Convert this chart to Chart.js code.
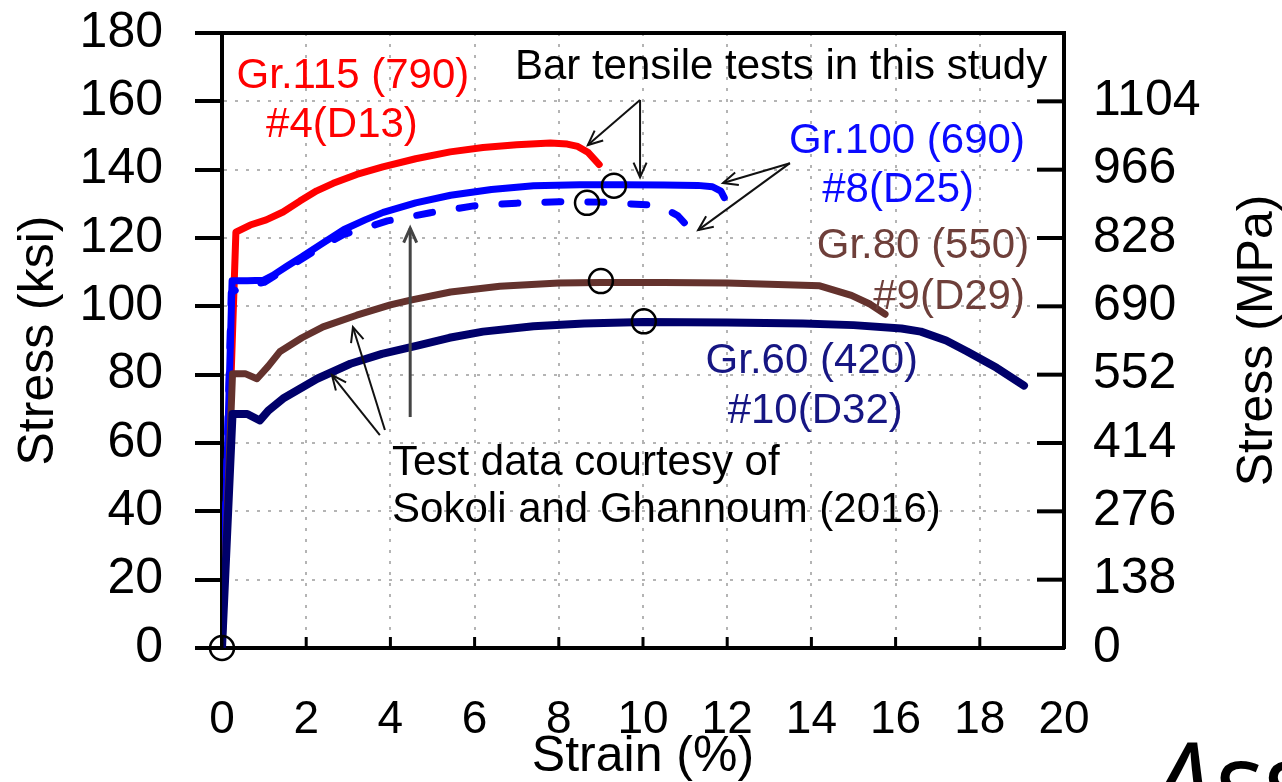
<!DOCTYPE html>
<html>
<head>
<meta charset="utf-8">
<title>Stress-strain curves</title>
<script src="https://cdn.jsdelivr.net/npm/chart.js@4.4.1/dist/chart.umd.min.js"></script>
<style>
  html, body { margin: 0; padding: 0; background: #fff; }
  #wrap { width: 1282px; height: 782px; }
</style>
</head>
<body>
<div id="wrap"><canvas id="chart"></canvas></div>
<script>
// Stress-strain curves of reinforcing bars, ksi on the left, MPa labels on the right

const FONT = "'Liberation Sans', Arial, sans-serif";

const RED   = '#ff0000';
const BLUE  = '#0000ff';
const BROWN = '#64322d';
const NAVY  = '#00006a';

// Gr.115 #4 (bar test)
const GR115_STRAIN = [0, 0.33, 0.67, 1.05, 1.45, 1.85, 2.25, 2.64, 3.2, 3.82, 4.6, 5.42, 6.2, 7.0, 7.8, 8.2, 8.45, 8.7, 8.96];
const GR115_STRESS = [0, 121.7, 123.8, 125.3, 127.6, 130.8, 133.8, 136, 138.6, 140.8, 143.2, 145.2, 146.5, 147.3, 147.8, 147.5, 146.8, 145, 141.5];

// Gr.100 #8 (bar test)
const GR100_STRAIN = [0, 0.24, 0.6, 0.98, 1.2, 1.55, 1.9, 2.33, 2.9, 3.4, 3.83, 4.6, 5.43, 6.4, 7.4, 8.5, 9.5, 10.5, 11.3, 11.65, 11.85, 11.93];
const GR100_STRESS = [0, 107.5, 107.5, 107.6, 109, 111.8, 114.5, 118, 122.5, 125.3, 127.5, 130.3, 132.5, 134.2, 135.3, 135.6, 135.6, 135.5, 135.4, 135, 133.7, 131.8];

// Gr.100 #8 (Sokoli and Ghannoum)
const GR100S_STRAIN = [0, 0.22, 0.5, 1.0, 1.5, 2.3, 2.88, 3.93, 4.95, 5.98, 7.0, 8.0, 9.0, 10.1, 10.5, 10.83, 11.07];
const GR100S_STRESS = [0, 104, 106, 107, 110.8, 117, 121, 125, 127.4, 129.4, 130.2, 130.6, 130.5, 129.7, 128.8, 126.5, 123.3];

// Gr.80 #9
const GR80_STRAIN = [0, 0.25, 0.55, 0.83, 1.1, 1.38, 1.9, 2.4, 3.2, 4.0, 4.48, 5.43, 6.6, 8.0, 9.0, 10.5, 12.0, 13.2, 14.2, 14.95, 15.4, 15.75];
const GR80_STRESS = [0, 80.3, 80.3, 78.8, 82.5, 86.8, 90.8, 94, 97.4, 100.4, 101.8, 104.2, 105.9, 106.8, 107, 107, 106.8, 106.4, 106, 103.2, 100.6, 97.7];

// Gr.60 #10
const GR60_STRAIN = [0, 0.25, 0.6, 0.9, 1.1, 1.45, 2.26, 3.05, 3.8, 4.64, 5.4, 6.2, 7.4, 8.6, 10.0, 12.0, 13.8, 15.0, 16.14, 16.6, 17.2, 17.7, 18.4, 19.05];
const GR60_STRESS = [0, 68.5, 68.5, 66.6, 69.5, 73, 78.8, 83.2, 86.1, 88.5, 90.8, 92.6, 94.2, 95, 95.4, 95.3, 95, 94.5, 93.5, 92.6, 90, 86.8, 82, 76.8];

// open circle markers
const MARK_STRAIN = [0, 8.67, 9.31, 9.0, 10.02];
const MARK_STRESS = [0, 130.3, 135.3, 107.4, 95.6];

// right axis labels (MPa), one per 20 ksi tick
const MPA_LABELS = ['0', '138', '276', '414', '552', '690', '828', '966', '1104', ''];

function pts(xs, ys) {
  return xs.map((x, i) => ({ x, y: ys[i] }));
}

function curve(xs, ys, color, extra) {
  return Object.assign({
    data: pts(xs, ys),
    borderColor: color,
    borderWidth: 7,
    pointRadius: 0,
    tension: 0,
    fill: false,
    borderJoinStyle: 'round',
    borderCapStyle: 'round',
  }, extra || {});
}

// text annotations in data coordinates (strain, ksi), y is the baseline
const NOTES = [
  { text: 'Gr.115 (790)', x: 3.11, y: 163.9, color: RED, align: 'center' },
  { text: '#4(D13)', x: 2.85, y: 149.5, color: RED, align: 'center' },
  { text: 'Bar tensile tests in this study', x: 19.6, y: 166.5, color: '#000', align: 'right' },
  { text: 'Gr.100 (690)', x: 16.27, y: 145.0, color: '#0a0aff', align: 'center' },
  { text: '#8(D25)', x: 16.06, y: 130.5, color: '#0a0aff', align: 'center' },
  { text: 'Gr.80 (550)', x: 16.65, y: 114.1, color: '#6e3f3a', align: 'center' },
  { text: '#9(D29)', x: 17.27, y: 99.2, color: '#6e3f3a', align: 'center' },
  { text: 'Gr.60 (420)', x: 14.01, y: 80.5, color: '#161683', align: 'center' },
  { text: '#10(D32)', x: 14.09, y: 65.8, color: '#161683', align: 'center' },
  { text: 'Test data courtesy of', x: 4.04, y: 50.6, color: '#000', align: 'left' },
  { text: 'Sokoli and Ghannoum (2016)', x: 4.04, y: 36.9, color: '#000', align: 'left' },
];

const ARROWS = [
  { from: [9.93, 160.4], to: [8.69, 147.2], color: '#111', width: 2 },
  { from: [9.93, 160.4], to: [9.93, 137.8], color: '#111', width: 2 },
  { from: [13.49, 141.9], to: [11.9, 136.1], color: '#111', width: 2 },
  { from: [13.49, 141.9], to: [11.31, 122.3], color: '#111', width: 2 },
  { from: [3.87, 63.8], to: [3.11, 93.9], color: '#111', width: 2 },
  { from: [3.75, 62.3], to: [2.61, 79.9], color: '#111', width: 2 },
  { from: [4.47, 67.6], to: [4.47, 122.9], color: '#444', width: 3 },
];

function drawArrow(ctx, x1, y1, x2, y2, head) {
  ctx.beginPath();
  ctx.moveTo(x1, y1);
  ctx.lineTo(x2, y2);
  ctx.stroke();
  const a = Math.atan2(y2 - y1, x2 - x1);
  ctx.beginPath();
  ctx.moveTo(x2 - head * Math.cos(a - 0.42), y2 - head * Math.sin(a - 0.42));
  ctx.lineTo(x2, y2);
  ctx.lineTo(x2 - head * Math.cos(a + 0.42), y2 - head * Math.sin(a + 0.42));
  ctx.stroke();
}

const frameAndNotes = {
  id: 'frameAndNotes',
  afterDatasetsDraw(chart) {
    const { ctx, chartArea: ca, scales } = chart;
    const x = scales.x, y = scales.y;
    ctx.save();

    // top border
    ctx.strokeStyle = '#000';
    ctx.lineWidth = 4;
    ctx.beginPath();
    ctx.moveTo(ca.left - 2, ca.top);
    ctx.lineTo(ca.right + 2, ca.top);
    ctx.stroke();

    // inward ticks on the right border
    y.ticks.forEach(t => {
      const py = y.getPixelForValue(t.value);
      ctx.beginPath();
      ctx.moveTo(ca.right, py);
      ctx.lineTo(ca.right - 27, py);
      ctx.stroke();
    });

    // short inward ticks on the bottom axis
    ctx.lineWidth = 3;
    x.ticks.forEach(t => {
      const px = x.getPixelForValue(t.value);
      ctx.beginPath();
      ctx.moveTo(px, ca.bottom);
      ctx.lineTo(px, ca.bottom - 11);
      ctx.stroke();
    });

    // arrows
    ARROWS.forEach(a => {
      ctx.strokeStyle = a.color;
      ctx.lineWidth = a.width;
      drawArrow(ctx,
        x.getPixelForValue(a.from[0]), y.getPixelForValue(a.from[1]),
        x.getPixelForValue(a.to[0]), y.getPixelForValue(a.to[1]), 16);
    });

    // labels
    ctx.font = '42px ' + FONT;
    ctx.textBaseline = 'alphabetic';
    NOTES.forEach(n => {
      ctx.fillStyle = n.color;
      ctx.textAlign = n.align;
      ctx.fillText(n.text, x.getPixelForValue(n.x), y.getPixelForValue(n.y));
    });

    // right axis title, reading bottom to top
    ctx.save();
    ctx.translate(1258, (ca.top + ca.bottom) / 2);
    ctx.rotate(-Math.PI / 2);
    ctx.fillStyle = '#000';
    ctx.font = '50px ' + FONT;
    ctx.textAlign = 'center';
    ctx.textBaseline = 'middle';
    ctx.fillText('Stress (MPa)', 0, 0);
    ctx.restore();

    // caption fragment in the corner
    ctx.fillStyle = '#000';
    ctx.font = "italic 112px 'Open Sans', sans-serif";
    ctx.textAlign = 'left';
    ctx.textBaseline = 'alphabetic';
    ctx.fillText('Ass', 1150, 822);

    ctx.restore();
  }
};

// dotted grey grid, dash set through the border options (Chart.js v4)
const GRID = { color: '#b4b4b4', lineWidth: 2 };
const BORDER = { display: true, color: '#000', width: 4, dash: [3, 8] };

// fixed axis boxes; drop the label overhang so the plot spans 0..180 from the top padding down
function fixWidth(w) {
  return s => {
    s.width = w;
    s.paddingTop = 0;
    s.paddingBottom = 0;
  };
}

new Chart(document.getElementById('chart'), {
  type: 'line',
  data: {
    datasets: [
      {
        data: pts(MARK_STRAIN, MARK_STRESS),
        showLine: false,
        pointRadius: 12,
        pointHoverRadius: 12,
        pointBorderColor: '#000',
        pointBorderWidth: 2.5,
        pointBackgroundColor: 'rgba(0,0,0,0)',
        clip: false,
      },
      curve(GR60_STRAIN, GR60_STRESS, NAVY, { borderWidth: 8 }),
      curve(GR80_STRAIN, GR80_STRESS, BROWN),
      curve(GR100S_STRAIN, GR100S_STRESS, BLUE, { borderDash: [16, 27] }),
      curve(GR100_STRAIN, GR100_STRESS, BLUE),
      curve(GR115_STRAIN, GR115_STRESS, RED),
    ],
  },
  options: {
    responsive: true,
    maintainAspectRatio: false,
    animation: false,
    events: [],
    layout: { padding: { top: 33, left: 0, right: 0, bottom: 0 } },
    plugins: { legend: { display: false }, tooltip: { enabled: false } },
    scales: {
      x: {
        type: 'linear',
        min: 0,
        max: 20,
        afterFit: s => { s.height = 134; },
        ticks: { stepSize: 2, color: '#000', font: { family: FONT, size: 46 }, padding: 45, maxRotation: 0 },
        grid: Object.assign({ drawTicks: false }, GRID),
        border: BORDER,
        title: {
          display: true,
          text: 'Strain (%)',
          color: '#000',
          font: { family: FONT, size: 50, lineHeight: 1 },
          padding: { top: 0, bottom: 0 },
        },
      },
      y: {
        type: 'linear',
        position: 'left',
        min: 0,
        max: 180,
        afterFit: fixWidth(222),
        ticks: { stepSize: 20, color: '#000', font: { family: FONT, size: 50 }, padding: 32 },
        grid: Object.assign({
          drawTicks: true,
          tickLength: 27,
          tickColor: '#000',
          tickWidth: 4,
          tickBorderDash: [],
        }, GRID),
        border: BORDER,
        title: {
          display: true,
          text: 'Stress (ksi)',
          color: '#000',
          font: { family: FONT, size: 50, lineHeight: 1 },
          padding: { top: 14, bottom: 0 },
        },
      },
      y2: {
        type: 'linear',
        position: 'right',
        min: 0,
        max: 180,
        afterFit: fixWidth(218),
        ticks: {
          stepSize: 20,
          color: '#000',
          font: { family: FONT, size: 50 },
          padding: 29,
          callback: (v, i) => MPA_LABELS[i],
        },
        grid: { drawOnChartArea: false, drawTicks: false },
        border: { display: true, color: '#000', width: 4 },
      },
    },
  },
  plugins: [frameAndNotes],
});
</script>
</body>
</html>
